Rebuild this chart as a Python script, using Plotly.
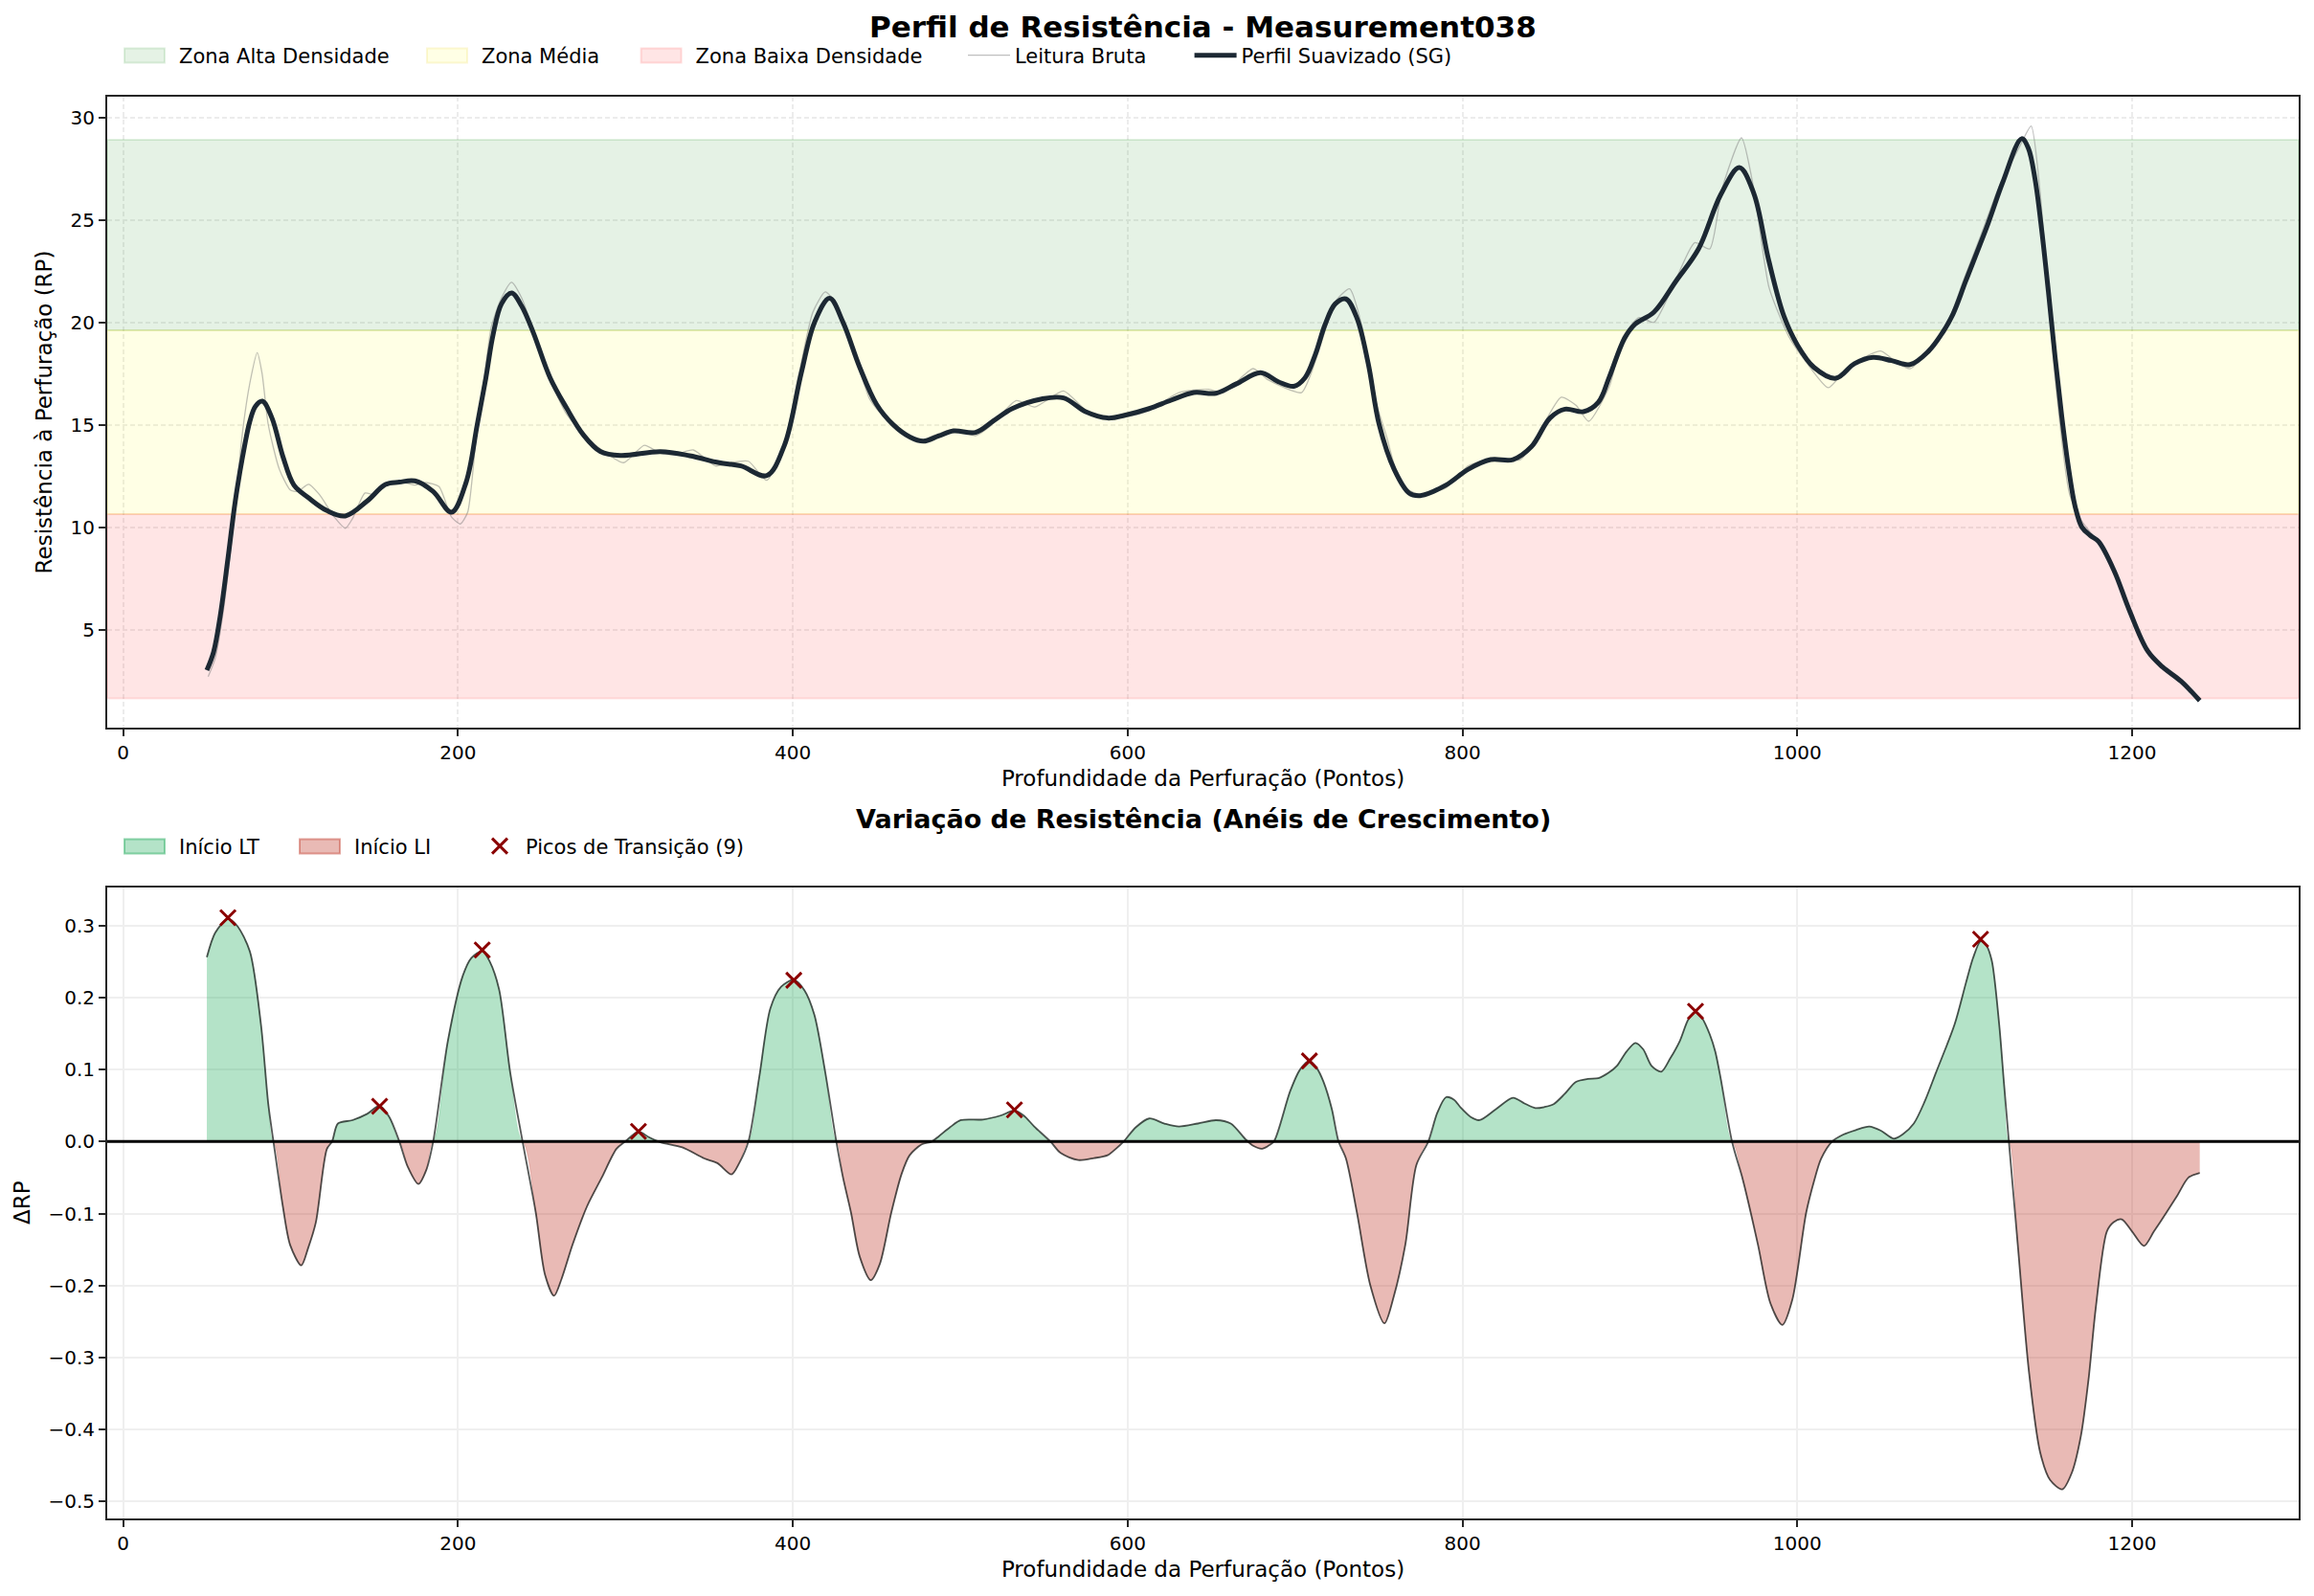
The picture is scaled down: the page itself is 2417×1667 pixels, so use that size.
import numpy as np
import plotly.graph_objects as go

# ---------------- data ----------------
prof_x = [50, 54, 58, 62.6, 67, 71.4, 75.7, 79, 83.2, 88.9, 95.4, 102, 110.8, 121.7, 132.7, 145.8, 156.7, 165,
          174.3, 185.2, 196.1, 204.9, 211.5, 216.7, 221, 226, 232, 238, 245, 255, 265, 275, 285, 297,
          321, 338.4, 356, 369, 384.4, 395, 405, 413, 422, 430, 440, 450, 460, 470, 478, 487,
          496.1, 509.2, 520, 531.1, 548.6, 561.7, 574.9, 588, 600, 612.9, 626, 639.5, 652.8, 665, 679.4, 690,
          699.3, 706, 712, 718, 724, 730.4, 737, 743.7, 750.3, 759.2, 768.1, 774.7, 790.2, 803.5, 816.9, 830.2,
          841.2, 852.3, 861.2, 872.3, 881.2, 887.8, 896.7, 903, 914.4, 927.7, 941, 954.3, 965.4, 974, 983,
          992, 1000, 1010, 1023, 1034.1, 1045.2, 1056.3, 1067.4, 1078.5, 1086, 1093, 1100.7, 1114, 1122.8,
          1134, 1138, 1142, 1146, 1150, 1154, 1158, 1162, 1166, 1170, 1175, 1180, 1189.4, 1198.2, 1209.3,
          1218.2, 1229.3, 1240.4]
prof_y = [3.02, 3.9, 5.67, 8.47, 11.28, 13.46, 15.17, 15.9, 16.15, 15.33, 13.46, 12.06, 11.43, 10.81, 10.55, 11.28,
          12.09, 12.2, 12.26, 11.74, 10.73, 12.2, 15.0, 17.3, 19.4, 20.9, 21.43, 20.8, 19.5, 17.3, 15.8, 14.5,
          13.7, 13.5, 13.69, 13.49, 13.15, 12.99, 12.52, 14.0, 17.5, 20.0, 21.17, 20.0, 17.8, 16.0, 15.0, 14.4,
          14.2, 14.45, 14.7, 14.63, 15.2, 15.79, 16.26, 16.31, 15.64, 15.33, 15.5, 15.79, 16.2, 16.57,
          16.54, 17.0, 17.54, 17.1, 16.88, 17.3, 18.4, 19.9, 20.9, 21.14, 20.2, 18.0, 15.0, 12.83, 11.67, 11.54,
          12.06, 12.83, 13.3, 13.3, 13.93, 15.33, 15.76, 15.64, 16.1, 17.35, 19.2, 19.9, 20.5, 22.03, 23.58,
          26.23, 27.55, 26.3, 23.0, 20.3, 18.9, 17.8, 17.27, 17.98, 18.29, 18.13, 17.94, 18.6, 19.4, 20.4,
          22.03, 24.83, 26.85, 28.96, 28.5, 27.0, 24.5, 21.5, 18.3, 15.4, 12.9, 11.0, 10.0, 9.6, 9.3, 7.85, 5.98,
          3.96, 3.18, 2.48, 1.54]

raw_x = [50.8, 55, 60, 65, 71.4, 75.7, 80.1, 83, 86.7, 93.3, 99.8, 104.2, 110.8, 117.3, 126.1, 132.7, 137, 144.5,
         150.2, 156.7, 167.7, 174.3, 180.8, 188.7, 196.1, 201.4, 205.8, 211, 216, 220, 225.9, 232, 238, 245, 255,
         265, 277.1, 285.9, 299, 311.3, 321, 329.7, 340.6, 353.8, 362.5, 373.5, 384.4, 395.4, 404, 412,
         419.4, 426, 434.8, 445.7, 452, 462, 474.2, 485, 496.1, 509.2, 518, 533.5, 544.5, 561.7, 574.9, 588, 600,
         612.9, 630.6, 648.4, 657.3, 675, 683.8, 703.8, 710, 718, 724, 732.6, 740, 747, 754.8, 763.6, 774.7, 790.2,
         803.5, 819.1, 834.6, 845, 859, 867.8, 875.4, 887.8, 896, 905.5, 914.4, 927, 938.8, 947.7, 955, 966.7,
         974.3, 983.1, 995, 1005, 1018.6, 1030, 1049.7, 1060, 1067.4, 1080, 1090, 1100, 1109.5, 1120, 1133,
         1139.7, 1145, 1149.5, 1155, 1162.7, 1170, 1178.3, 1189, 1198, 1209, 1218, 1229, 1240]
raw_y = [2.71, 3.6, 6.0, 9.5, 14.7, 17.04, 18.52, 17.5, 15.0, 12.83, 11.82, 11.74, 12.09, 11.59, 10.5, 9.95, 10.42,
         11.67, 11.59, 12.13, 12.18, 12.06, 12.18, 11.98, 10.5, 10.16, 10.73, 14.5, 17.5, 19.8, 21.17, 21.95, 21.2,
         19.6, 17.2, 15.5, 14.39, 13.77, 13.15, 14.0, 13.61, 13.54, 13.77, 12.99, 13.15, 13.22, 12.29, 14.24,
         17.6, 20.5, 21.48, 20.9, 19.0, 16.3, 15.6, 14.8, 14.16, 14.5, 14.78, 14.47, 14.94, 16.18, 15.87, 16.65,
         15.72, 15.3, 15.4, 15.7, 16.57, 16.73, 16.57, 17.74, 17.2, 16.57, 17.6, 19.6, 21.0, 21.64, 19.8, 16.5,
         14.39, 12.06, 11.59, 11.93, 13.0, 13.38, 13.3, 14.5, 16.34, 15.95, 15.17, 16.88, 19.3, 20.23, 20.0, 22.0,
         23.89, 23.58, 26.5, 29.0, 26.39, 21.71, 19.3, 18.1, 16.81, 17.8, 18.6, 18.0, 17.74, 18.8, 20.0, 22.2,
         24.21, 26.5, 28.6, 29.58, 26.39, 21.71, 16.5, 11.59, 10.3, 9.41, 7.8, 6.0, 4.0, 3.15, 2.45, 1.5]

deriv_x = [50, 55, 62.6, 68, 75.7, 82.3, 86.7, 89.8, 95.4, 99.8, 106.4, 110.5, 115.1, 121.7, 124.8, 128.3, 137,
           145.8, 153.2, 159, 165, 170, 176.4, 181, 185.2, 194, 202.7, 208, 214.5, 219, 224.6, 231.2, 238.6, 246.5,
           252, 257.4, 262, 268.4, 277.1, 285.9, 294.7, 299.9, 307.8, 314, 321, 334, 347.2, 355, 363.4, 368, 373.5,
           380, 386.6, 393, 400.6, 407, 412.9, 419.4, 426, 430, 434.8, 440, 446.6, 452, 458.8, 465, 469.8, 477,
           483, 487.3, 494, 500.4, 513.6, 524, 532.4, 538, 544.2, 553.9, 560, 570.5, 580, 588, 593, 597.6, 605,
           612.9, 622, 630.6, 642, 652.8, 661.6, 670.5, 675, 680.3, 684, 687.4, 697.1, 703, 708.6, 713, 717, 722,
           726, 730.4, 737, 745, 753.4, 759, 765.9, 772.5, 779.6, 785, 790.2, 795, 799, 805, 810.2, 820, 830.2,
           837, 843.5, 849, 854.5, 861, 867.8, 875, 881.2, 887, 892.2, 898, 903.3, 908, 913, 918.8, 924, 929.9,
           935, 939.2, 943, 947.7, 951, 954.3, 961, 967.6, 976.5, 984, 991.1, 997, 1005.3, 1010, 1014.2, 1020.8,
           1027.5, 1035, 1043, 1050, 1057.6, 1063, 1069.6, 1076, 1082.9, 1094, 1100.7, 1105, 1109.5, 1113,
           1116.2, 1120.6, 1123.5, 1126.4, 1131.7, 1138.4, 1145, 1151, 1158.3, 1164, 1169.4, 1174, 1178.3,
           1184.9, 1189, 1193.8, 1200, 1207.1, 1213, 1220.4, 1227, 1233.7, 1240.4]
deriv_y = [0.256, 0.29, 0.309, 0.3, 0.264, 0.163, 0.052, 0.0, -0.09, -0.144, -0.172, -0.148, -0.1125, -0.0103, 0.0,
           0.025, 0.0297, 0.0385, 0.0496, 0.034, 0.0, -0.035, -0.059, -0.04, 0.0, 0.14, 0.229, 0.255, 0.2645, 0.25,
           0.211, 0.096, 0.0, -0.099, -0.185, -0.2143, -0.19, -0.1436, -0.09, -0.05, -0.01, 0.0, 0.014, 0.006,
           -0.001, -0.008, -0.0235, -0.03, -0.0456, -0.03, 0.0, 0.09, 0.185, 0.215, 0.2246, 0.21, 0.176, 0.096, 0.0,
           -0.05, -0.099, -0.16, -0.1925, -0.17, -0.099, -0.045, -0.019, -0.004, 0.0, 0.0075, 0.02, 0.0297, 0.0306,
           0.036, 0.043, 0.036, 0.021, 0.0, -0.016, -0.0257, -0.023, -0.019, -0.01, 0.0, 0.02, 0.032, 0.025, 0.0208,
           0.025, 0.0297, 0.025, 0.003, -0.006, -0.01, -0.006, 0.0, 0.07, 0.1, 0.112, 0.102, 0.083, 0.045, 0.0,
           -0.0236, -0.099, -0.2, -0.2525, -0.215, -0.143, -0.0325, 0.0, 0.04, 0.0616, 0.058, 0.047, 0.034, 0.0297,
           0.045, 0.0607, 0.053, 0.0465, 0.048, 0.052, 0.066, 0.0829, 0.087, 0.088, 0.095, 0.105, 0.125, 0.137,
           0.128, 0.105, 0.097, 0.115, 0.14, 0.17, 0.18, 0.172, 0.149, 0.125, 0.087, 0.0, -0.054, -0.143, -0.225,
           -0.2547, -0.22, -0.099, -0.055, -0.024, 0.0, 0.0097, 0.016, 0.0208, 0.015, 0.004, 0.01, 0.025, 0.055,
           0.096, 0.163, 0.22, 0.255, 0.278, 0.272, 0.251, 0.163, 0.08, 0.0, -0.143, -0.32, -0.431, -0.47, -0.483,
           -0.46, -0.409, -0.33, -0.231, -0.125, -0.112, -0.108, -0.125, -0.145, -0.125, -0.099, -0.075, -0.05,
           -0.0436]

peak_x = [62.6, 153.2, 214.5, 307.8, 400.6, 532.4, 708.6, 939.2, 1109.5]
peak_y = [0.311, 0.049, 0.266, 0.014, 0.224, 0.044, 0.112, 0.181, 0.281]

zone_names = ["Zona Alta Densidade", "Zona Média", "Zona Baixa Densidade"]
zone_low = [19.61, 10.64, 1.64]
zone_high = [28.91, 19.61, 10.64]
zone_fill = ["rgba(0,128,0,0.1)", "rgba(255,255,0,0.1)", "rgba(255,0,0,0.1)"]
zone_edge = ["rgba(0,128,0,0.12)", "rgba(230,200,0,0.15)", "rgba(255,0,0,0.1)"]

x_ticks = [0, 200, 400, 600, 800, 1000, 1200]
y1_ticks = [5, 10, 15, 20, 25, 30]

X_RANGE = [-9.5, 1299.5]
Y1_RANGE = [0.22, 31.01]
Y2_RANGE = [-0.5231, 0.3532]

W, H = 2417, 1667
FONT = "DejaVu Sans"
XDOM = [112 / W, 2401 / W]
Y1DOM = [1 - 760 / H, 1 - 101 / H]
Y2DOM = [1 - 1585.7 / H, 1 - 926.7 / H]

LT_FILL, LT_EDGE = "rgba(39,174,96,0.35)", "rgba(39,174,96,0.5)"
LI_FILL, LI_EDGE = "rgba(192,57,43,0.35)", "rgba(192,57,43,0.45)"

fig = go.Figure()

# zones (axhspan-like rectangles spanning the axis)
for i, nm in enumerate(zone_names):
    fig.add_trace(go.Scatter(
        x=[X_RANGE[0], X_RANGE[1], X_RANGE[1], X_RANGE[0], X_RANGE[0]],
        y=[zone_low[i], zone_low[i], zone_high[i], zone_high[i], zone_low[i]],
        mode="lines", fill="toself", fillcolor=zone_fill[i],
        line=dict(color=zone_edge[i], width=2), name=nm, hoverinfo="skip", showlegend=False,
        xaxis="x", yaxis="y"))

fig.add_trace(go.Scatter(x=raw_x, y=raw_y, mode="lines", name="Leitura Bruta",
                         line=dict(color="rgba(128,128,128,0.5)", width=1.3, shape="spline", smoothing=0.6),
                         xaxis="x", yaxis="y", legend="legend4"))
fig.add_trace(go.Scatter(x=prof_x, y=prof_y, mode="lines", name="Perfil Suavizado (SG)",
                         line=dict(color="#1c2833", width=5, shape="spline", smoothing=1.0),
                         xaxis="x", yaxis="y", legend="legend5"))

d = np.array(deriv_y)
pos = np.maximum(d, 0.0)
neg = np.minimum(d, 0.0)
fig.add_trace(go.Scatter(x=deriv_x, y=pos, mode="lines", fill="tozeroy", name="Início LT", showlegend=False,
                         fillcolor=LT_FILL,
                         line=dict(color="rgba(39,174,96,0.45)", width=0.5, shape="spline", smoothing=0.8),
                         xaxis="x2", yaxis="y2"))
fig.add_trace(go.Scatter(x=deriv_x, y=neg, mode="lines", fill="tozeroy", name="Início LI", showlegend=False,
                         fillcolor=LI_FILL,
                         line=dict(color="rgba(192,57,43,0.45)", width=0.5, shape="spline", smoothing=0.8),
                         xaxis="x2", yaxis="y2"))
fig.add_trace(go.Scatter(x=deriv_x, y=deriv_y, mode="lines", showlegend=False,
                         line=dict(color="rgba(25,30,28,0.75)", width=1.8, shape="spline", smoothing=0.8),
                         xaxis="x2", yaxis="y2"))
fig.add_trace(go.Scatter(x=peak_x, y=peak_y, mode="markers", name="Picos de Transição (9)",
                         marker=dict(symbol="x-thin", size=16, color="#8b0000",
                                     line=dict(color="#8b0000", width=3)),
                         xaxis="x2", yaxis="y2", legend="legend8"))

# legend text entries for patch-type handles (patch boxes drawn as paper shapes below)
patch_entries = [(zone_names[0], "legend"), (zone_names[1], "legend2"), (zone_names[2], "legend3"),
                 ("Início LT", "legend6"), ("Início LI", "legend7")]
for nm, lg in patch_entries:
    fig.add_trace(go.Scatter(x=[None], y=[None], mode="lines", name=nm,
                             line=dict(color="rgba(0,0,0,0)", width=0), legend=lg,
                             xaxis="x", yaxis="y"))

axis_common = dict(showline=True, mirror=True, linecolor="#262626", linewidth=2,
                   ticks="outside", ticklen=7, tickwidth=2, tickcolor="#262626",
                   tickfont=dict(family=FONT, size=20, color="black"), zeroline=False)

legend_text_x = [189, 505, 728.6, 1062, 1298.6, 189, 372, 551]
legend_y = [58, 58, 58, 58, 58, 884, 884, 884]

patch_style = [(0, zone_fill[0], "rgba(0,128,0,0.12)"), (1, zone_fill[1], "rgba(230,200,0,0.15)"),
               (2, zone_fill[2], "rgba(255,0,0,0.12)"), (5, LT_FILL, LT_EDGE), (6, LI_FILL, LI_EDGE)]
shapes = [dict(type="line", xref="x2 domain", x0=0, x1=1, yref="y2", y0=0, y1=0,
               line=dict(color="black", width=3), layer="above")]
for idx, fc, ec in patch_style:
    tx, ty = legend_text_x[idx], legend_y[idx]
    shapes.append(dict(type="rect", xref="paper", yref="paper",
                       x0=(tx - 59) / W, x1=(tx - 17) / W,
                       y0=1 - (ty + 7.5) / H, y1=1 - (ty - 7.5) / H,
                       fillcolor=fc, line=dict(color=ec, width=2), layer="above"))

fig.update_layout(
    width=W, height=H, margin=dict(l=0, r=0, t=0, b=0),
    paper_bgcolor="white", plot_bgcolor="white",
    font=dict(family=FONT, color="black"),
    xaxis=dict(domain=XDOM, range=X_RANGE, anchor="y", tickvals=x_ticks,
               showgrid=True, gridcolor="#ececec", gridwidth=1.5, griddash="5px,3px",
               title=dict(text="Profundidade da Perfuração (Pontos)", font=dict(family=FONT, size=23), standoff=8),
               **axis_common),
    yaxis=dict(domain=Y1DOM, range=Y1_RANGE, anchor="x", tickvals=y1_ticks,
               showgrid=True, gridcolor="#ececec", gridwidth=1.5, griddash="5px,3px",
               title=dict(text="Resistência à Perfuração (RP)", font=dict(family=FONT, size=23), standoff=12),
               **axis_common),
    xaxis2=dict(domain=XDOM, range=X_RANGE, anchor="y2", tickvals=x_ticks,
                showgrid=True, gridcolor="#efefef", gridwidth=1.5,
                title=dict(text="Profundidade da Perfuração (Pontos)", font=dict(family=FONT, size=23), standoff=8),
                **axis_common),
    yaxis2=dict(domain=Y2DOM, range=Y2_RANGE, anchor="x2", tick0=0, dtick=0.1, tickformat=".1f",
                showgrid=True, gridcolor="#efefef", gridwidth=1.5,
                title=dict(text="ΔRP", font=dict(family=FONT, size=23), standoff=12),
                **axis_common),
    shapes=shapes,
    annotations=[
        dict(text="<b>Perfil de Resistência - Measurement038</b>", xref="paper", yref="paper",
             x=(XDOM[0] + XDOM[1]) / 2, y=1 - 28 / H, xanchor="center", yanchor="middle",
             showarrow=False, font=dict(family=FONT, size=31, color="black")),
        dict(text="<b>Variação de Resistência (Anéis de Crescimento)</b>", xref="paper", yref="paper",
             x=(XDOM[0] + XDOM[1]) / 2, y=1 - 855 / H, xanchor="center", yanchor="middle",
             showarrow=False, font=dict(family=FONT, size=27, color="black")),
    ],
)

# one legend per entry to reproduce matplotlib's horizontal legend spacing
for i, (tx, ty) in enumerate(zip(legend_text_x, legend_y)):
    key = "legend" if i == 0 else f"legend{i + 1}"
    fig.update_layout({key: dict(x=(tx - 56) / W, y=1 - ty / H, xanchor="left", yanchor="middle",
                                 orientation="h", bgcolor="rgba(0,0,0,0)", borderwidth=0, itemwidth=44,
                                 font=dict(family=FONT, size=21, color="black"))})

fig.write_html("out.html", config={"displayModeBar": False},
               post_script="document.body.style.margin='0px';")
